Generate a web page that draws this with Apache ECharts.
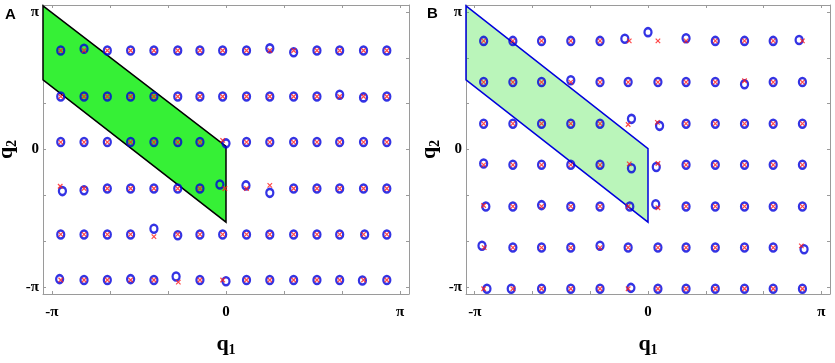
<!DOCTYPE html>
<html>
<head>
<meta charset="utf-8">
<script src="https://cdn.jsdelivr.net/npm/echarts@6/dist/echarts.min.js"></script>
<style>
  html, body { margin: 0; padding: 0; background: #fff; }
  #chart { width: 835px; height: 363px; }
</style>
</head>
<body>
<div id="chart"></div>
<script>
const PI = Math.PI;

// axis ticks / labels (radians)
const tickValues = [-PI, -2 * PI / 3, -PI / 3, 0, PI / 3, 2 * PI / 3, PI];
const labelValues = [-PI, 0, PI];
const axisMin = -3.3;
const axisMax = 3.3;

// panel A grid of fixed points
const colsA = [-2.98, -2.56, -2.14, -1.72, -1.30, -0.87, -0.47, -0.06, 0.37, 0.79, 1.22, 1.64, 2.05, 2.48, 2.90];
const rowsA = [2.26, 1.21, 0.17, -0.89, -1.94, -2.98];
// [col, row, dq1, dq2] where the blue circle sits off the red cross
const circleShiftA = [
    [1, 0, 0, 0.04], [9, 0, 0, 0.05], [10, 0, 0, -0.04],
    [12, 1, 0, 0.04], [13, 1, 0, -0.02],
    [7, 2, 0.06, -0.03],
    [0, 3, 0.03, -0.06], [1, 3, 0, -0.04], [7, 3, -0.05, 0.09], [8, 3, -0.01, 0.07], [9, 3, 0, -0.10],
    [4, 4, 0, 0.13], [5, 4, 0, -0.02], [13, 4, 0.02, 0],
    [0, 5, -0.02, 0.02], [3, 5, 0, 0.02], [5, 5, -0.03, 0.08], [7, 5, 0.06, -0.03], [13, 5, -0.02, -0.01]
];
const crossShiftA = [
    [7, 2, 0, 0.04],
    [0, 3, -0.01, 0.05], [7, 3, 0.04, 0], [9, 3, 0, 0.07],
    [4, 4, 0, -0.05],
    [5, 5, 0.01, -0.05]
];
// shaded region A: [q1, q2] vertices
const regionA = [[-3.3, 3.28], [0, 0.07], [0, -1.66], [-3.3, 1.59]];

// panel B grid of fixed points
const colsB = [-2.98, -2.45, -1.93, -1.40, -0.87, -0.36, 0.18, 0.69, 1.22, 1.75, 2.27, 2.80];
const rowsB = [2.48, 1.54, 0.59, -0.35, -1.30, -2.24, -3.18];
const circleShiftB = [
    [5, 0, -0.06, 0.05], [6, 0, -0.18, 0.20], [7, 0, 0, 0.06], [11, 0, -0.06, 0.02],
    [3, 1, 0, 0.04], [9, 1, 0, -0.05],
    [5, 2, 0.06, 0.11], [6, 2, 0.03, -0.05],
    [0, 3, 0, 0.03], [5, 3, 0.06, -0.08], [6, 3, -0.03, -0.05],
    [0, 4, 0.04, 0], [2, 4, 0, 0.03], [5, 4, 0.03, 0], [6, 4, -0.04, 0.05],
    [0, 5, -0.03, 0.04], [4, 5, 0, 0.04], [11, 5, 0.03, -0.04],
    [0, 6, 0.06, 0], [1, 6, -0.03, 0], [5, 6, 0.05, 0.02]
];
const crossShiftB = [
    [5, 0, 0.02, 0],
    [9, 1, 0, 0.03],
    [5, 2, 0, -0.02], [6, 2, -0.01, 0.03],
    [5, 3, 0.02, 0.02], [6, 3, 0, 0.03],
    [0, 4, 0, 0.02], [6, 4, 0, -0.03],
    [0, 5, 0.01, 0], [11, 5, -0.02, 0.04]
];
const regionB = [[-3.3, 3.28], [0, 0.02], [0, -1.66], [-3.3, 1.59]];

function gridPoints(cols, rows, shifts) {
    const pts = [];
    rows.forEach((r, j) => {
        cols.forEach((c, i) => {
            const s = shifts.find(t => t[0] === i && t[1] === j);
            pts.push(s ? [c + s[2], r + s[3]] : [c, r]);
        });
    });
    return pts;
}

const serif = 'Liberation Serif';
const frameColor = '#9a9a9a';
const blue = '#0000dd';
const red = '#ff1a1a';

function fmt(v) {
    if (Math.abs(v) < 1e-6) return '0';
    return v > 0 ? 'π' : '-π';
}

function nameRich() {
    return {
        rich: {
            q: { fontFamily: serif, fontWeight: 'bold', fontSize: 22, color: '#000' },
            s: { fontFamily: serif, fontWeight: 'bold', fontSize: 14, color: '#000', padding: [12, 0, 0, 0] }
        }
    };
}

function makeAxes(gridIndex, dim) {
    const base = {
        type: 'value', gridIndex: gridIndex, min: axisMin, max: axisMax,
        splitLine: { show: false },
        axisLine: { show: true, onZero: false, lineStyle: { color: frameColor, width: 1 } },
        axisTick: { show: true, inside: true, length: 3, customValues: tickValues, lineStyle: { color: frameColor } }
    };
    const main = Object.assign({}, base, {
        position: dim === 'x' ? 'bottom' : 'left',
        axisLabel: {
            customValues: labelValues, formatter: fmt, fontFamily: serif, fontWeight: 'bold',
            fontSize: 15, color: '#000', margin: dim === 'x' ? 11 : 4
        },
        name: dim === 'x' ? '{q|q}{s|1}' : '{q|q}{s|2}',
        nameLocation: 'middle',
        nameGap: dim === 'x' ? 37 : 24,
        nameRotate: dim === 'x' ? 0 : 90,
        nameTextStyle: nameRich()
    });
    const opp = Object.assign({}, base, {
        position: dim === 'x' ? 'top' : 'right',
        axisLabel: { show: false }
    });
    return [main, opp];
}

function regionSeries(idx, verts, fill, stroke) {
    return {
        type: 'custom', xAxisIndex: idx * 2, yAxisIndex: idx * 2, z: 1,
        data: [0],
        renderItem: function (params, api) {
            const pts = verts.map(v => api.coord(v));
            return {
                type: 'polygon',
                shape: { points: pts },
                style: { fill: fill, stroke: stroke, lineWidth: 1.5 }
            };
        },
        silent: true
    };
}

function circleSeries(idx, data) {
    return {
        type: 'scatter', xAxisIndex: idx * 2, yAxisIndex: idx * 2, z: 3,
        symbol: 'circle', symbolSize: [7, 8], data: data, silent: true,
        itemStyle: { color: 'rgba(0,0,0,0)', borderColor: blue, borderWidth: 2.4 }
    };
}

function crossSeries(idx, data) {
    return {
        type: 'scatter', xAxisIndex: idx * 2, yAxisIndex: idx * 2, z: 4,
        symbol: 'path://M0,0L10,10M10,0L0,10', symbolSize: 4.5, data: data, silent: true,
        itemStyle: { color: 'rgba(0,0,0,0)', borderColor: red, borderWidth: 1.2 }
    };
}

const chart = echarts.init(document.getElementById('chart'), null, { renderer: 'canvas' });
const xA = makeAxes(0, 'x'), xB = makeAxes(1, 'x');
const yA = makeAxes(0, 'y'), yB = makeAxes(1, 'y');

chart.setOption({
    animation: false,
    backgroundColor: '#fff',
    grid: [
        { left: 43, top: 5, width: 366, height: 289, containLabel: false, outerBoundsMode: 'none' },
        { left: 466, top: 5, width: 364, height: 289, containLabel: false, outerBoundsMode: 'none' }
    ],
    xAxis: [xA[0], xA[1], xB[0], xB[1]],
    yAxis: [yA[0], yA[1], yB[0], yB[1]],
    graphic: [
        { type: 'text', left: 5, top: 7, style: { text: 'A', fontFamily: 'Liberation Sans', fontWeight: 'bold', fontSize: 15, fill: '#000' } },
        { type: 'text', left: 427, top: 6, style: { text: 'B', fontFamily: 'Liberation Sans', fontWeight: 'bold', fontSize: 15, fill: '#000' } }
    ],
    series: [
        regionSeries(0, regionA, '#36f036', '#000'),
        circleSeries(0, gridPoints(colsA, rowsA, circleShiftA)),
        crossSeries(0, gridPoints(colsA, rowsA, crossShiftA)),
        regionSeries(1, regionB, 'rgba(40,225,40,0.32)', blue),
        circleSeries(1, gridPoints(colsB, rowsB, circleShiftB)),
        crossSeries(1, gridPoints(colsB, rowsB, crossShiftB))
    ]
});

window.addEventListener('resize', () => chart.resize());
</script>
</body>
</html>
